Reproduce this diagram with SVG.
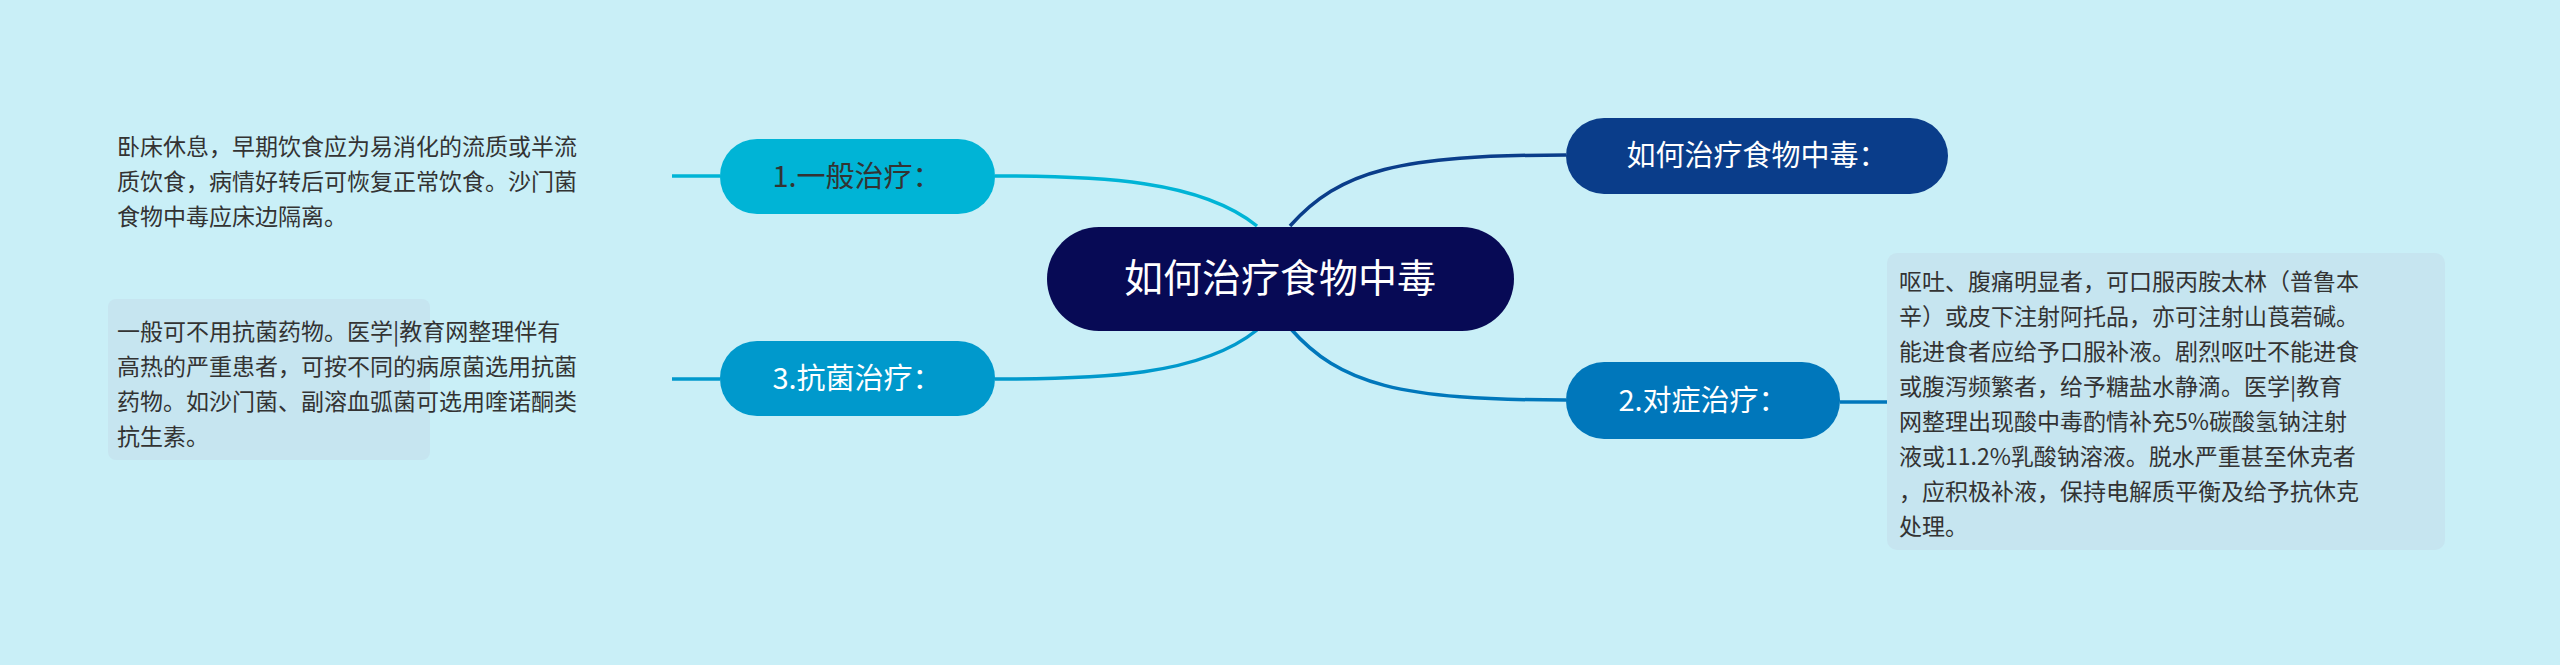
<svg xmlns="http://www.w3.org/2000/svg" width="2560" height="665" viewBox="0 0 2560 665">
<style>
text{font-family:"Noto Sans CJK SC","Liberation Sans",sans-serif}
.t{font-size:23px;fill:#333}
.n{font-size:29px}
.c{fill:none;stroke-width:3.5}
</style>
<rect width="2560" height="665" fill="#c9eff7"/>
<g id="connectors">
<path class="c" stroke="#00b4d6" d="M1257,226 C1200,180 1100,176 995,176"/>
<path class="c" stroke="#0099cc" d="M1257,330 C1200,376 1100,379 995,379"/>
<path class="c" stroke="#0a3d8a" d="M1290,226 C1340,170 1400,155 1566,155"/>
<path class="c" stroke="#0077bb" d="M1290,328 C1340,385 1400,400 1566,400"/>
<path class="c" stroke="#00b4d6" d="M672,176 H720"/>
<path class="c" stroke="#0099cc" d="M672,379 H720"/>
<path class="c" stroke="#0077bb" d="M1840,402 H1887"/>
</g>
<g id="root">
<rect x="1047" y="227" width="467" height="104" rx="52" fill="#070a55"/>
<text x="1280" y="292" font-size="39" fill="#fff" text-anchor="middle">如何治疗食物中毒</text>
</g>
<g id="n0">
<rect x="1566" y="118" width="382" height="76" rx="38" fill="#0a3d8a"/>
<text x="1757" y="166" class="n" fill="#fff" text-anchor="middle">如何治疗食物中毒：</text>
</g>
<g id="n1">
<rect x="720" y="139" width="275" height="75" rx="37" fill="#00b4d6"/>
<text x="857" y="187" class="n" fill="#333" text-anchor="middle">1.一般治疗：</text>
</g>
<g id="n3">
<rect x="720" y="341" width="275" height="75" rx="37" fill="#0099cc"/>
<text x="857" y="389" class="n" fill="#fff" text-anchor="middle">3.抗菌治疗：</text>
</g>
<g id="n2">
<rect x="1566" y="362" width="274" height="77" rx="38" fill="#0077bb"/>
<text x="1703" y="411" class="n" fill="#fff" text-anchor="middle">2.对症治疗：</text>
</g>
<g id="t1">
<text class="t" x="117" y="155">卧床休息，早期饮食应为易消化的流质或半流</text>
<text class="t" x="117" y="190">质饮食，病情好转后可恢复正常饮食。沙门菌</text>
<text class="t" x="117" y="225">食物中毒应床边隔离。</text>
</g>
<g id="t3">
<rect x="108" y="299" width="322" height="161" rx="8" fill="#c6e5f0"/>
<text class="t" x="117" y="340">一般可不用抗菌药物。医学|教育网整理伴有</text>
<text class="t" x="117" y="375">高热的严重患者，可按不同的病原菌选用抗菌</text>
<text class="t" x="117" y="410">药物。如沙门菌、副溶血弧菌可选用喹诺酮类</text>
<text class="t" x="117" y="445">抗生素。</text>
</g>
<g id="t2">
<rect x="1887" y="253" width="558" height="297" rx="10" fill="#c6e5f0"/>
<text class="t" x="1899" y="290">呕吐、腹痛明显者，可口服丙胺太林（普鲁本</text>
<text class="t" x="1899" y="325">辛）或皮下注射阿托品，亦可注射山莨菪碱。</text>
<text class="t" x="1899" y="360">能进食者应给予口服补液。剧烈呕吐不能进食</text>
<text class="t" x="1899" y="395">或腹泻频繁者，给予糖盐水静滴。医学|教育</text>
<text class="t" x="1899" y="430">网整理出现酸中毒酌情补充5%碳酸氢钠注射</text>
<text class="t" x="1899" y="465">液或11.2%乳酸钠溶液。脱水严重甚至休克者</text>
<text class="t" x="1899" y="500">，应积极补液，保持电解质平衡及给予抗休克</text>
<text class="t" x="1899" y="535">处理。</text>
</g>
</svg>
